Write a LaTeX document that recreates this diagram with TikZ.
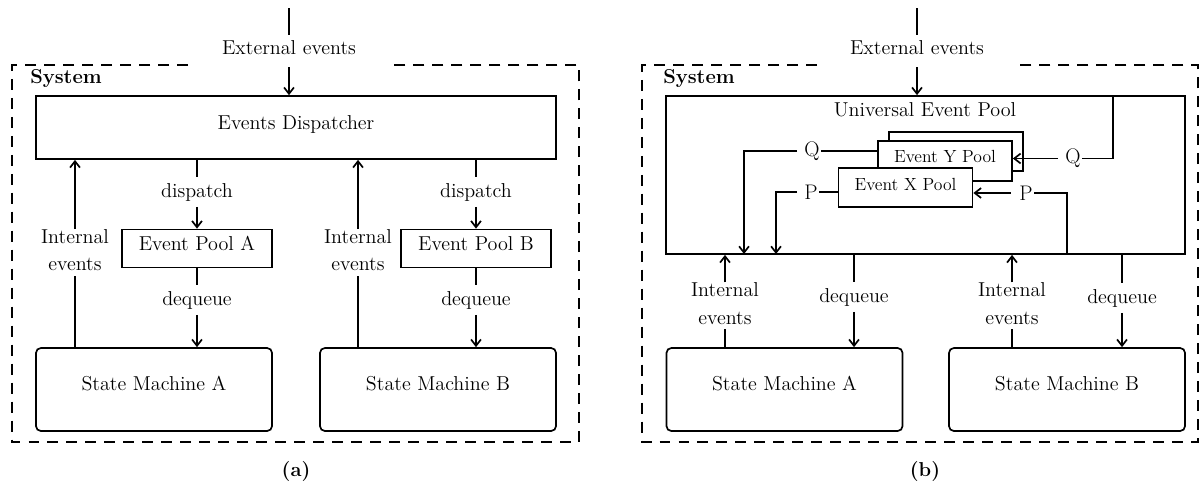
\documentclass[tikz,border=0pt]{standalone}
\usetikzlibrary{arrows.meta}
\begin{document}
\begin{tikzpicture}[x=0.025cm, y=-0.025cm,
  every node/.style={inner sep=0pt, font=\fontsize{14.3}{17}\selectfont},
  box/.style={draw, line width=1.2pt, fill=white},
  smbox/.style={box, rounded corners=3.5pt, minimum width=5.9cm, minimum height=2.075cm},
  poolbox/.style={box, minimum width=3.75cm, minimum height=0.95cm},
  subpool/.style={box, minimum width=3.35cm, minimum height=1cm},
  sysframe/.style={dash pattern=on 7.8pt off 5.7pt, line width=1.5pt},
  conn/.style={line width=1.2pt},
  arr/.style={conn, -{Straight Barb[length=4.5pt,width=7pt]}},
  extlab/.style={inner xsep=0pt, inner ysep=3.5pt, text depth=5.5pt},
  edgelab/.style={inner sep=4pt},
  intlab/.style={align=center, font=\fontsize{14.3}{19.5}\selectfont},
  qp/.style={inner xsep=1pt, inner ysep=2pt, font=\fontsize{15}{17}\selectfont},
  systitle/.style={anchor=base west, font=\fontsize{14.3}{17}\selectfont\bfseries},
  smallname/.style={anchor=base, font=\fontsize{12.5}{14}\selectfont},
  subcap/.style={anchor=base, font=\fontsize{14.3}{17}\selectfont\bfseries},
]
\useasboundingbox (0,0) rectangle (1200,483);

% ---------------- (a) dispatcher with one pool per machine ----------------
\draw[sysframe] (188,65) -- (12,65) -- (12,442) -- (579,442) -- (579,65) -- (388,65);
\node[systitle] (sysA) at (30,83) {System};

\coordinate (extAtop) at (289,8);
\node[extlab] (extA) at (289,51) {External events};
\node[box, minimum width=13cm, minimum height=1.575cm] (disp) at (296,127.5) {};
\node[anchor=base] (dispT) at (296,129.5) {Events Dispatcher};
\draw[conn] (extAtop) -- (extA);
\draw[arr] (extA) -- (extA |- disp.north);

\node[poolbox] (poolA) at (197,248.5) {};
\node[anchor=base] (poolAT) at (197,250) {Event Pool A};
\node[poolbox] (poolB) at (476,248.5) {};
\node[anchor=base] (poolBT) at (476,250) {Event Pool B};

\node[edgelab] (dspA) at (197,192) {dispatch};
\draw[conn] (disp.south -| dspA) -- (dspA);
\draw[arr] (dspA) -- (poolA);
\node[edgelab] (dspB) at (476,192) {dispatch};
\draw[conn] (disp.south -| dspB) -- (dspB);
\draw[arr] (dspB) -- (poolB);

\node[smbox] (smA) at (154,389.5) {};
\node[anchor=base] (smAT) at (154,390) {State Machine A};
\node[smbox] (smB) at (438,389.5) {};
\node[anchor=base] (smBT) at (438,390) {State Machine B};

\node[edgelab] (dqA) at (197,300) {dequeue};
\draw[conn] (poolA) -- (dqA);
\draw[arr] (dqA) -- (smA.north -| dqA);
\node[edgelab] (dqB) at (476,300) {dequeue};
\draw[conn] (poolB) -- (dqB);
\draw[arr] (dqB) -- (smB.north -| dqB);

\node[intlab] (intA) at (75,250.2) {Internal\\events};
\draw[conn, shorten >=3pt] (smA.north -| intA) -- (intA);
\draw[arr] (intA) -- (intA |- disp.south);
\node[intlab] (intB) at (358,250.2) {Internal\\events};
\draw[conn, shorten >=3pt] (smB.north -| intB) -- (intB);
\draw[arr] (intB) -- (intB |- disp.south);

\node[subcap] (capA) at (296,476) {(a)};

% ---------------- (b) one universal pool with per-event sub-pools ----------------
\draw[sysframe] (817,65) -- (642,65) -- (642,442) -- (1198,442) -- (1198,65) -- (1016,65);
\node[systitle] (sysB) at (663,83) {System};

\coordinate (extBtop) at (917,8);
\node[extlab] (extB) at (917,51) {External events};
\node[box, minimum width=12.975cm, minimum height=3.95cm] (uep) at (925.5,175) {};
\node[anchor=base] (uepT) at (925,116) {Universal Event Pool};
\draw[conn] (extBtop) -- (extB);
\draw[arr] (extB) -- (extB |- uep.north);

\node[subpool, minimum height=0.975cm] (backpool) at (956,151.5) {};
\node[subpool] (ypool) at (945,161) {};
\node[smallname] (ypoolT) at (945,162.7) {Event Y Pool};
\node[subpool, minimum height=0.975cm] (xpool) at (905.5,187.5) {};
\node[smallname] (xpoolT) at (905.5,190.7) {Event X Pool};

% outgoing Q and P towards the machines
\node[qp] (qL) at (812,151) {Q};
\coordinate (qLend) at (744,254);
\draw[conn] (ypool.west |- qL) -- (qL);
\draw[arr, shorten <=4pt] (qL) -| (qLend);
\node[qp] (pL) at (811,192) {P};
\coordinate (pLend) at (776,254);
\draw[conn] (xpool.west |- pL) -- (pL);
\draw[arr, shorten <=4pt] (pL) -| (pLend);

% incoming Q and P into the sub-pools
\node[qp] (qR) at (1073,158.5) {Q};
\coordinate (qRtop) at (1113,96);
\draw[conn] (qRtop) |- (qR);
\draw[arr, shorten <=4pt] (qR) -- (ypool.east |- qR);
\node[qp] (pR) at (1026,193) {P};
\coordinate (pRbot) at (1067,254);
\draw[conn] (pRbot) |- (pR);
\draw[arr, shorten <=5pt] (pR) -- (xpool.east |- pR);

\node[smbox] (smA2) at (784.5,389.5) {};
\node[anchor=base] (smA2T) at (784.5,390) {State Machine A};
\node[smbox] (smB2) at (1067,389.5) {};
\node[anchor=base] (smB2T) at (1067,390) {State Machine B};

\node[intlab] (intA2) at (725,303.5) {Internal\\events};
\draw[conn, shorten >=3pt] (smA2.north -| intA2) -- (intA2);
\draw[arr] (intA2) -- (intA2 |- uep.south);
\node[edgelab] (dqA2) at (854,297) {dequeue};
\draw[conn] (uep.south -| dqA2) -- (dqA2);
\draw[arr] (dqA2) -- (dqA2 |- smA2.north);

\node[intlab] (intB2) at (1012,303.5) {Internal\\events};
\draw[conn, shorten >=3pt] (smB2.north -| intB2) -- (intB2);
\draw[arr] (intB2) -- (intB2 |- uep.south);
\node[edgelab] (dqB2) at (1122,298) {dequeue};
\draw[conn] (uep.south -| dqB2) -- (dqB2);
\draw[arr] (dqB2) -- (dqB2 |- smB2.north);

\node[subcap] (capB) at (925,476) {(b)};
\end{tikzpicture}
\end{document}
